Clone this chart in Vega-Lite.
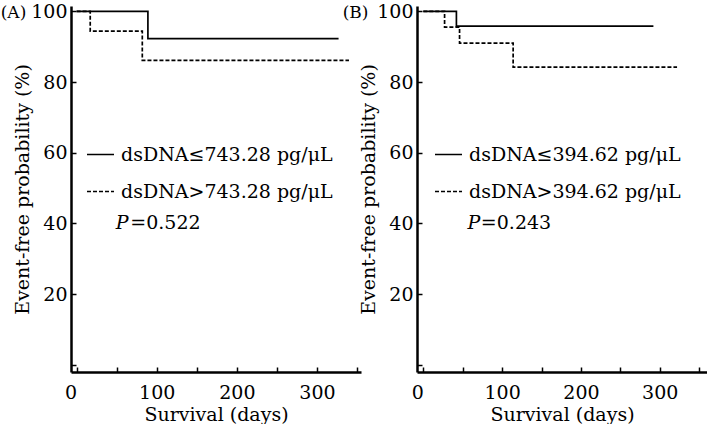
{
  "$schema": "https://vega.github.io/schema/vega-lite/v6.json",
  "padding": {"left": 0, "top": 2, "right": 0, "bottom": 0},
  "background": "white",
  "datasets": {
    "A": [
      {"group": "dsDNA≤743.28 pg/μL", "days": 0, "surv": 100},
      {"group": "dsDNA≤743.28 pg/μL", "days": 89, "surv": 92.3},
      {"group": "dsDNA≤743.28 pg/μL", "days": 327, "surv": 92.3},
      {"group": "dsDNA>743.28 pg/μL", "days": 0, "surv": 100},
      {"group": "dsDNA>743.28 pg/μL", "days": 17, "surv": 94.4},
      {"group": "dsDNA>743.28 pg/μL", "days": 82, "surv": 86.1},
      {"group": "dsDNA>743.28 pg/μL", "days": 340, "surv": 86.1}
    ],
    "B": [
      {"group": "dsDNA≤394.62 pg/μL", "days": 0, "surv": 100},
      {"group": "dsDNA≤394.62 pg/μL", "days": 42, "surv": 95.8},
      {"group": "dsDNA≤394.62 pg/μL", "days": 292, "surv": 95.8},
      {"group": "dsDNA>394.62 pg/μL", "days": 0, "surv": 100},
      {"group": "dsDNA>394.62 pg/μL", "days": 27, "surv": 95.5},
      {"group": "dsDNA>394.62 pg/μL", "days": 46, "surv": 91.0},
      {"group": "dsDNA>394.62 pg/μL", "days": 114, "surv": 84.2},
      {"group": "dsDNA>394.62 pg/μL", "days": 322, "surv": 84.2}
    ]
  },
  "config": {
    "font": "DejaVu Serif",
    "view": {"stroke": null},
    "axis": {
      "grid": false,
      "domainColor": "black",
      "domainWidth": 2.5,
      "tickColor": "black",
      "tickWidth": 1.5,
      "tickSize": -5,
      "labelFont": "DejaVu Serif",
      "labelFontSize": 19,
      "labelColor": "black",
      "labelFlush": false,
      "titleFont": "DejaVu Serif",
      "titleFontSize": 19,
      "titleFontWeight": "normal",
      "titleColor": "black"
    },
    "legend": {
      "orient": "none",
      "title": null,
      "symbolType": "stroke",
      "symbolSize": 729,
      "symbolStrokeWidth": 1.7,
      "symbolStrokeColor": "black",
      "labelFont": "DejaVu Serif",
      "labelFontSize": 19,
      "labelColor": "black",
      "labelLimit": 0,
      "labelOffset": 6,
      "rowPadding": 12,
      "padding": 0
    },
    "title": {"font": "DejaVu Serif", "fontSize": 17, "fontWeight": "normal", "color": "black"}
  },
  "bounds": "flush",
  "spacing": 56,
  "resolve": {"scale": {"strokeDash": "independent", "x": "independent", "y": "independent"}, "legend": {"strokeDash": "independent"}},
  "hconcat": [
    {
      "width": 290,
      "height": 366,
      "title": {"text": "(A)", "anchor": "start", "frame": "bounds", "offset": -20, "dx": -13},
      "layer": [
        {
          "data": {"name": "A"},
          "mark": {"type": "line", "interpolate": "step-after", "color": "black", "strokeWidth": 1.7},
          "encoding": {
            "x": {"field": "days", "type": "quantitative",
              "scale": {"domain": [-7, 355], "nice": false, "zero": false},
              "axis": {"title": "Survival (days)", "values": [0, 50, 100, 150, 200, 250, 300, 350],
                "labelExpr": "datum.value % 100 == 0 ? datum.label : ''",
                "labelAlign": {"condition": {"test": "datum.value == 0", "value": "right"}, "value": "center"},
                "labelPadding": 16, "titlePadding": 3}},
            "y": {"field": "surv", "type": "quantitative",
              "scale": {"domain": [-2, 101.5], "nice": false},
              "axis": {"title": "Event-free probability (%)", "values": [0, 10, 20, 30, 40, 50, 60, 70, 80, 90, 100],
                "labelExpr": "datum.value % 20 == 0 && datum.value > 0 ? datum.label : ''",
                "labelPadding": 9, "titlePadding": -2}},
            "strokeDash": {"field": "group", "type": "nominal",
              "scale": {"domain": ["dsDNA≤743.28 pg/μL", "dsDNA>743.28 pg/μL"], "range": [[1, 0], [4, 2]]},
              "legend": {"legendX": 15, "legendY": 134}}
          }
        },
        {
          "data": {"values": [{"days": 49, "surv": 40, "label": "P"}]},
          "mark": {"type": "text", "fontStyle": "italic", "fontSize": 19, "align": "left", "baseline": "middle", "color": "black"},
          "encoding": {
            "x": {"field": "days", "type": "quantitative"},
            "y": {"field": "surv", "type": "quantitative"},
            "text": {"field": "label"}
          }
        },
        {
          "data": {"values": [{"days": 67, "surv": 40, "label": "=0.522"}]},
          "mark": {"type": "text", "fontSize": 19, "align": "left", "baseline": "middle", "color": "black"},
          "encoding": {
            "x": {"field": "days", "type": "quantitative"},
            "y": {"field": "surv", "type": "quantitative"},
            "text": {"field": "label"}
          }
        }
      ]
    },
    {
      "width": 290,
      "height": 366,
      "title": {"text": "(B)", "anchor": "start", "frame": "bounds", "offset": -20, "dx": -17},
      "layer": [
        {
          "data": {"name": "B"},
          "mark": {"type": "line", "interpolate": "step-after", "color": "black", "strokeWidth": 1.7},
          "encoding": {
            "x": {"field": "days", "type": "quantitative",
              "scale": {"domain": [-8, 360], "nice": false, "zero": false},
              "axis": {"title": "Survival (days)", "values": [0, 50, 100, 150, 200, 250, 300, 350],
                "labelExpr": "datum.value % 100 == 0 ? datum.label : ''",
                "labelAlign": {"condition": {"test": "datum.value == 0", "value": "right"}, "value": "center"},
                "labelPadding": 16, "titlePadding": 3}},
            "y": {"field": "surv", "type": "quantitative",
              "scale": {"domain": [-2, 101.5], "nice": false},
              "axis": {"title": "Event-free probability (%)", "values": [0, 10, 20, 30, 40, 50, 60, 70, 80, 90, 100],
                "labelExpr": "datum.value % 20 == 0 && datum.value > 0 ? datum.label : ''",
                "labelPadding": 9, "titlePadding": -2}},
            "strokeDash": {"field": "group", "type": "nominal",
              "scale": {"domain": ["dsDNA≤394.62 pg/μL", "dsDNA>394.62 pg/μL"], "range": [[1, 0], [4, 2]]},
              "legend": {"legendX": 17, "legendY": 134}}
          }
        },
        {
          "data": {"values": [{"days": 56, "surv": 40, "label": "P"}]},
          "mark": {"type": "text", "fontStyle": "italic", "fontSize": 19, "align": "left", "baseline": "middle", "color": "black"},
          "encoding": {
            "x": {"field": "days", "type": "quantitative"},
            "y": {"field": "surv", "type": "quantitative"},
            "text": {"field": "label"}
          }
        },
        {
          "data": {"values": [{"days": 73, "surv": 40, "label": "=0.243"}]},
          "mark": {"type": "text", "fontSize": 19, "align": "left", "baseline": "middle", "color": "black"},
          "encoding": {
            "x": {"field": "days", "type": "quantitative"},
            "y": {"field": "surv", "type": "quantitative"},
            "text": {"field": "label"}
          }
        }
      ]
    }
  ]
}
